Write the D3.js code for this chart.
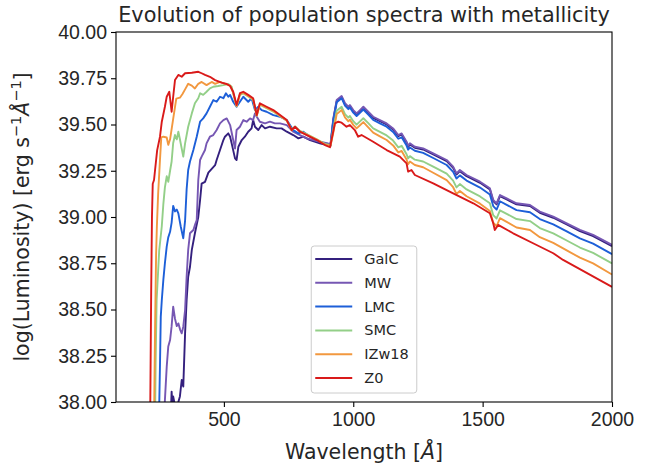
<!DOCTYPE html>
<html>
<head>
<meta charset="utf-8">
<script src="https://cdn.jsdelivr.net/npm/d3@7"></script>
<style>
  body { margin: 0; background: #fff; }
  svg { font-family: "DejaVu Sans", sans-serif; }
  .tick text { font-size: 19.5px; fill: #262626; }
  .domain, .tick line { stroke: #000; }
</style>
</head>
<body>
<div id="chart"></div>
<script>
// series: [wavelength (Angstrom), log luminosity]
const galcSpec = [
  [294, 37.9], [298, 38.056], [301, 37.98], [304, 38.03], [311, 37.98], [318, 37.97], [324, 38.0],
  [330, 38.03], [337, 38.119], [343, 38.083], [350, 38.371], [356, 38.551], [362, 38.677],
  [369, 38.731], [376, 38.822], [388, 38.912], [401, 39.0], [408, 39.092], [414, 39.18],
  [427, 39.19], [440, 39.24], [453, 39.26], [466, 39.28], [472, 39.308], [485, 39.362],
  [498, 39.416], [504, 39.434], [517, 39.452], [524, 39.434], [530, 39.398], [543, 39.317],
  [549, 39.308], [556, 39.38], [569, 39.416], [581, 39.434], [594, 39.461], [607, 39.479],
  [613, 39.524], [620, 39.488], [633, 39.47], [646, 39.497], [659, 39.479], [678, 39.488],
  [704, 39.479], [723, 39.479], [743, 39.461], [768, 39.443], [788, 39.425], [807, 39.434],
  [833, 39.416], [871, 39.398], [897, 39.389], [912, 39.387],
  [923, 39.527], [936, 39.626], [955, 39.648], [968, 39.609], [981, 39.590], [987, 39.599],
  [1000, 39.572], [1013, 39.554], [1026, 39.572], [1039, 39.590], [1058, 39.563], [1077, 39.536],
  [1103, 39.518], [1129, 39.500], [1154, 39.473], [1174, 39.437], [1187, 39.446], [1206, 39.401],
  [1212, 39.379], [1219, 39.392], [1238, 39.374], [1270, 39.365], [1309, 39.338], [1361, 39.302],
  [1386, 39.266], [1399, 39.230], [1412, 39.248], [1438, 39.221], [1490, 39.185], [1528, 39.149],
  [1541, 39.086], [1554, 39.068], [1567, 39.113], [1593, 39.095], [1631, 39.068], [1683, 39.059],
  [1721, 39.023], [1773, 38.996], [1825, 38.960], [1876, 38.924], [1927, 38.897], [2000, 38.843]
];

const mwSpec = [
  [268, 37.9], [272, 38.01], [279, 38.19], [285, 38.30], [292, 38.335], [298, 38.41],
  [304, 38.515], [311, 38.45], [318, 38.41], [324, 38.425], [331, 38.39], [337, 38.371],
  [343, 38.407], [350, 38.497], [356, 38.677], [362, 38.822], [369, 38.912], [382, 38.93],
  [389, 38.96], [395, 38.984], [401, 39.2], [408, 39.308], [414, 39.326], [427, 39.362],
  [433, 39.398], [446, 39.434], [459, 39.443], [472, 39.47], [485, 39.506], [498, 39.524],
  [511, 39.533], [524, 39.497], [536, 39.416], [543, 39.37], [549, 39.47], [562, 39.488],
  [575, 39.524], [588, 39.515], [601, 39.533], [613, 39.524], [620, 39.56], [627, 39.542],
  [639, 39.515], [659, 39.506], [678, 39.515], [697, 39.506], [717, 39.506], [743, 39.497],
  [768, 39.461], [794, 39.443], [820, 39.425], [846, 39.416], [871, 39.407], [903, 39.398],
  [912, 39.396],
  [923, 39.533], [936, 39.632], [955, 39.654], [968, 39.615], [981, 39.596], [987, 39.605],
  [1000, 39.578], [1013, 39.560], [1026, 39.578], [1039, 39.596], [1058, 39.569], [1077, 39.542],
  [1103, 39.524], [1129, 39.506], [1154, 39.479], [1174, 39.443], [1187, 39.452], [1206, 39.407],
  [1212, 39.385], [1219, 39.398], [1238, 39.380], [1270, 39.371], [1309, 39.344], [1361, 39.308],
  [1386, 39.272], [1399, 39.236], [1412, 39.254], [1438, 39.227], [1490, 39.191], [1528, 39.155],
  [1541, 39.092], [1554, 39.074], [1567, 39.119], [1593, 39.101], [1631, 39.074], [1683, 39.065],
  [1721, 39.029], [1773, 39.002], [1825, 38.966], [1876, 38.930], [1927, 38.903], [2000, 38.849]
];

const lmcSpec = [
  [249, 37.9], [253, 38.2], [256, 38.46], [260, 38.55], [266, 38.66], [272, 38.75], [279, 38.84],
  [285, 38.89], [292, 38.92], [298, 38.97], [304, 39.06], [311, 39.03], [318, 39.04], [324, 39.02],
  [333, 38.95], [343, 38.885], [350, 38.98], [356, 39.15], [362, 39.254], [369, 39.30],
  [382, 39.362], [395, 39.434], [408, 39.515], [420, 39.533], [433, 39.56], [446, 39.596],
  [459, 39.632], [472, 39.623], [485, 39.65], [498, 39.642], [508, 39.669], [517, 39.65],
  [524, 39.66], [536, 39.623], [549, 39.596], [562, 39.623], [575, 39.65], [594, 39.623],
  [607, 39.642], [620, 39.578], [633, 39.596], [646, 39.578], [665, 39.569], [691, 39.551],
  [717, 39.542], [743, 39.524], [768, 39.47], [788, 39.452], [807, 39.461], [833, 39.434],
  [871, 39.407], [903, 39.389], [912, 39.385],
  [923, 39.521], [936, 39.620], [955, 39.642], [968, 39.602], [981, 39.583], [987, 39.592],
  [1000, 39.564], [1013, 39.546], [1026, 39.563], [1039, 39.581], [1058, 39.553], [1077, 39.525],
  [1103, 39.506], [1129, 39.488], [1154, 39.460], [1174, 39.423], [1187, 39.431], [1206, 39.386],
  [1212, 39.364], [1219, 39.376], [1238, 39.358], [1270, 39.347], [1309, 39.319], [1361, 39.281],
  [1386, 39.244], [1399, 39.208], [1412, 39.225], [1438, 39.197], [1490, 39.159], [1528, 39.122],
  [1541, 39.059], [1554, 39.040], [1567, 39.085], [1593, 39.066], [1631, 39.037], [1683, 39.026],
  [1721, 38.989], [1773, 38.960], [1825, 38.922], [1876, 38.884], [1927, 38.856], [2000, 38.799]
];

const smcSpec = [
  [234, 37.9], [236, 38.2], [240, 38.55], [250, 38.82], [260, 38.95], [266, 39.07], [272, 39.16],
  [279, 39.22], [285, 39.19], [292, 39.25], [298, 39.30], [304, 39.40], [311, 39.443],
  [318, 39.42], [324, 39.461], [330, 39.42], [343, 39.326], [350, 39.398], [362, 39.488],
  [376, 39.56], [388, 39.615], [401, 39.642], [408, 39.669], [420, 39.66], [433, 39.677],
  [446, 39.695], [459, 39.704], [478, 39.708], [498, 39.713], [517, 39.719], [530, 39.704],
  [536, 39.667], [549, 39.598], [562, 39.66], [575, 39.668], [594, 39.652], [613, 39.633],
  [627, 39.548], [639, 39.607], [665, 39.588], [691, 39.57], [717, 39.545], [743, 39.522],
  [762, 39.472], [775, 39.49], [794, 39.465], [820, 39.448], [859, 39.42], [891, 39.395],
  [912, 39.388],
  [923, 39.475], [936, 39.574], [955, 39.596], [968, 39.556], [981, 39.537], [987, 39.546],
  [1000, 39.518], [1013, 39.499], [1026, 39.517], [1039, 39.534], [1058, 39.507], [1077, 39.479],
  [1103, 39.460], [1129, 39.441], [1154, 39.413], [1174, 39.376], [1187, 39.385], [1206, 39.339],
  [1212, 39.317], [1219, 39.329], [1238, 39.310], [1270, 39.300], [1309, 39.272], [1361, 39.234],
  [1386, 39.197], [1399, 39.160], [1412, 39.178], [1438, 39.149], [1490, 39.111], [1528, 39.074],
  [1541, 39.010], [1554, 38.992], [1567, 39.036], [1593, 39.017], [1631, 38.989], [1683, 38.978],
  [1721, 38.940], [1773, 38.911], [1825, 38.873], [1876, 38.835], [1927, 38.806], [2000, 38.749]
];

const izw18Spec = [
  [230, 37.9], [234, 38.4], [238, 38.8], [241, 38.95], [246, 39.13], [253, 39.31], [258, 39.43],
  [266, 39.434], [279, 39.43], [285, 39.39], [292, 39.42], [304, 39.53], [316, 39.64],
  [330, 39.645], [340, 39.665], [350, 39.69], [362, 39.72], [376, 39.71], [388, 39.695],
  [401, 39.72], [414, 39.73], [433, 39.713], [453, 39.73], [466, 39.72], [485, 39.73],
  [505, 39.72], [524, 39.71],
  [536, 39.672], [549, 39.600], [562, 39.664], [575, 39.672], [594, 39.655], [613, 39.637],
  [627, 39.548], [639, 39.610], [665, 39.591], [691, 39.573], [717, 39.547], [743, 39.521],
  [762, 39.469], [775, 39.487], [794, 39.462], [820, 39.445], [859, 39.418], [891, 39.392],
  [912, 39.384],
  [923, 39.457], [936, 39.556], [955, 39.578], [968, 39.538], [981, 39.517], [987, 39.526],
  [1000, 39.498], [1013, 39.479], [1026, 39.496], [1039, 39.513], [1058, 39.484], [1077, 39.456],
  [1103, 39.436], [1129, 39.416], [1154, 39.387], [1174, 39.349], [1187, 39.357], [1206, 39.311],
  [1212, 39.285], [1219, 39.300], [1238, 39.281], [1270, 39.269], [1309, 39.239], [1361, 39.199],
  [1386, 39.161], [1399, 39.124], [1412, 39.141], [1438, 39.112], [1490, 39.072], [1528, 39.033],
  [1541, 38.969], [1554, 38.950], [1567, 38.994], [1593, 38.974], [1631, 38.943], [1683, 38.930],
  [1721, 38.891], [1773, 38.860], [1825, 38.820], [1876, 38.780], [1927, 38.749], [2000, 38.689]
];

const z0Spec = [
  [215, 37.9], [219, 38.6], [222, 39.0], [225, 39.18], [230, 39.2], [234, 39.254], [242, 39.36],
  [253, 39.434], [260, 39.515], [272, 39.596], [279, 39.65], [289, 39.677], [298, 39.569],
  [304, 39.65], [311, 39.74], [324, 39.768], [337, 39.758], [350, 39.777], [376, 39.78],
  [401, 39.785], [414, 39.777], [427, 39.768], [446, 39.758], [466, 39.74], [491, 39.726],
  [511, 39.719], [524, 39.708], [536, 39.677], [549, 39.605], [562, 39.669], [575, 39.677],
  [594, 39.66], [613, 39.642], [627, 39.551], [639, 39.615], [665, 39.596], [691, 39.578],
  [717, 39.551], [743, 39.524], [762, 39.47], [775, 39.488], [794, 39.461], [820, 39.443],
  [859, 39.416], [891, 39.389], [910, 39.377],
  [929, 39.506], [942, 39.515], [955, 39.51], [974, 39.488], [987, 39.497], [1006, 39.47],
  [1019, 39.434], [1032, 39.443], [1077, 39.407], [1129, 39.362], [1180, 39.326], [1206, 39.29],
  [1212, 39.245], [1225, 39.254], [1238, 39.227], [1309, 39.182], [1386, 39.128], [1464, 39.074],
  [1528, 39.02], [1541, 38.966], [1547, 38.93], [1560, 38.957], [1618, 38.912], [1695, 38.858],
  [1773, 38.804], [1811, 38.768], [2000, 38.622]
];

const seriesNames = ["GalC", "MW", "LMC", "SMC", "IZw18", "Z0"];
const seriesColors = ["#34207e", "#7657b3", "#1d5fd8", "#93cf88", "#f2983f", "#d91a1a"];
const seriesData = [galcSpec, mwSpec, lmcSpec, smcSpec, izw18Spec, z0Spec];

const xTicks = [500, 1000, 1500, 2000];
const yTicks = [38.0, 38.25, 38.5, 38.75, 39.0, 39.25, 39.5, 39.75, 40.0];
const xDomain = [83, 2000];
const yDomain = [38, 40];

const width = 666;
const height = 470;
const margin = { top: 32, right: 54, bottom: 68, left: 116 };

const svg = d3.select("#chart")
  .append("svg")
  .attr("width", width)
  .attr("height", height);

const x = d3.scaleLinear().domain(xDomain).range([margin.left, width - margin.right]);
const y = d3.scaleLinear().domain(yDomain).range([height - margin.bottom, margin.top]);

svg.append("clipPath").attr("id", "plot-clip")
  .append("rect")
  .attr("x", margin.left)
  .attr("y", margin.top)
  .attr("width", width - margin.left - margin.right)
  .attr("height", height - margin.top - margin.bottom);

// spectra
const line = d3.line().x((d) => x(d[0])).y((d) => y(d[1]));
svg.append("g")
  .attr("clip-path", "url(#plot-clip)")
  .selectAll("path")
  .data(seriesData)
  .join("path")
  .attr("d", line)
  .attr("fill", "none")
  .attr("stroke", (d, i) => seriesColors[i])
  .attr("stroke-width", 1.9)
  .attr("stroke-linejoin", "round");

// frame
svg.append("rect")
  .attr("x", margin.left)
  .attr("y", margin.top)
  .attr("width", width - margin.left - margin.right)
  .attr("height", height - margin.top - margin.bottom)
  .attr("fill", "none")
  .attr("stroke", "#000")
  .attr("stroke-width", 1.1);

// axes
const xAxis = svg.append("g")
  .attr("transform", `translate(0,${height - margin.bottom})`)
  .call(d3.axisBottom(x).tickValues(xTicks).tickSize(5).tickPadding(5).tickFormat(d3.format("d")));
xAxis.select(".domain").remove();

const yAxis = svg.append("g")
  .attr("transform", `translate(${margin.left},0)`)
  .call(d3.axisLeft(y).tickValues(yTicks).tickSize(5).tickPadding(4).tickFormat(d3.format(".2f")));
yAxis.select(".domain").remove();
svg.selectAll(".tick line").attr("stroke-width", 1.1);

// title
svg.append("text")
  .attr("x", (margin.left + width - margin.right) / 2)
  .attr("y", 22)
  .attr("text-anchor", "middle")
  .attr("font-size", 20.8)
  .attr("fill", "#262626")
  .text("Evolution of population spectra with metallicity");

// x label
const xl = svg.append("text")
  .attr("x", (margin.left + width - margin.right) / 2)
  .attr("y", 459)
  .attr("text-anchor", "middle")
  .attr("font-size", 20.5)
  .attr("fill", "#262626");
xl.append("tspan").text("Wavelength [");
xl.append("tspan").attr("font-style", "italic").text("Å");
xl.append("tspan").text("]");

// y label
const yl = svg.append("text")
  .attr("transform", `translate(29,${(margin.top + height - margin.bottom) / 2}) rotate(-90)`)
  .attr("text-anchor", "middle")
  .attr("font-size", 20.5)
  .attr("fill", "#262626");
yl.append("tspan").text("log(Luminosity) [erg s");
yl.append("tspan").attr("font-size", 14.5).attr("dy", -8).text("−1");
yl.append("tspan").attr("font-style", "italic").attr("dy", 8).text("Å");
yl.append("tspan").attr("font-size", 14.5).attr("dy", -8).text("−1");
yl.append("tspan").attr("dy", 8).text("]");

// legend (lower center)
const rowH = 23.8;
const legend = svg.append("g");
const legBox = legend.append("rect")
  .attr("fill", "#fff")
  .attr("fill-opacity", 0.8)
  .attr("stroke", "#cccccc")
  .attr("stroke-width", 1)
  .attr("rx", 3);
const rows = legend.selectAll("g.row")
  .data(seriesNames)
  .join("g")
  .attr("class", "row")
  .attr("transform", (d, i) => `translate(0,${i * rowH})`);
rows.append("line")
  .attr("x1", 4).attr("x2", 41)
  .attr("y1", 0).attr("y2", 0)
  .attr("stroke", (d, i) => seriesColors[i])
  .attr("stroke-width", 2);
rows.append("text")
  .attr("x", 53)
  .attr("y", 5)
  .attr("font-size", 14.5)
  .attr("fill", "#262626")
  .text((d) => d);
let maxW = 0;
rows.selectAll("text").each(function () { maxW = Math.max(maxW, this.getComputedTextLength()); });
const legW = 53 + maxW + 8;
const legH = rowH * (seriesNames.length - 1) + 28;
legBox.attr("x", 0).attr("y", -13).attr("width", legW).attr("height", legH);
const plotCx = (margin.left + width - margin.right) / 2;
legend.attr("transform", `translate(${plotCx - legW / 2},${height - margin.bottom - 9 - legH + 13})`);
</script>
</body>
</html>
